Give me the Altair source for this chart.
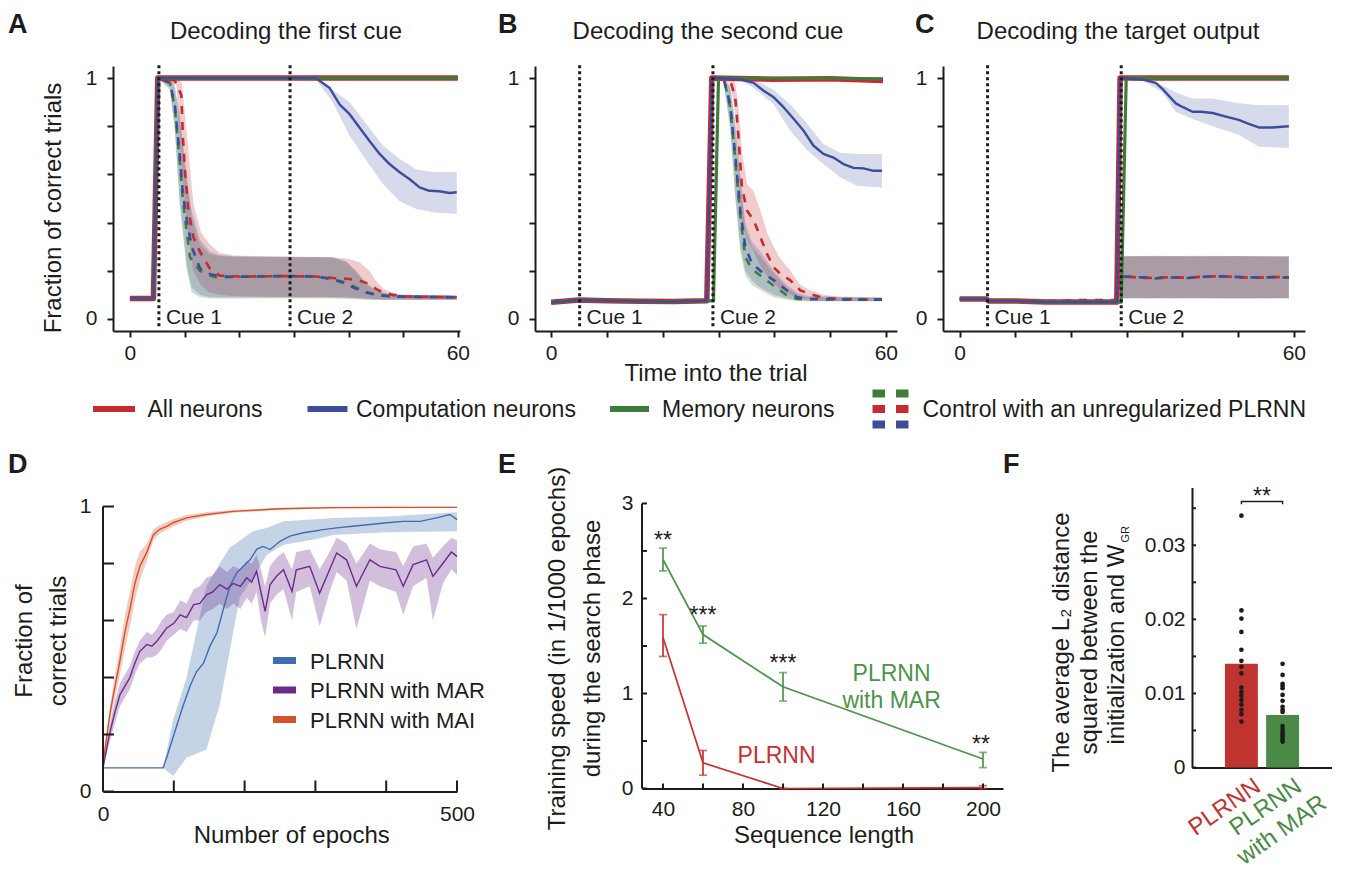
import altair as alt
import pandas as pd

FONT = "Liberation Sans, Arial, Helvetica, sans-serif"
INK = "#1c1c1c"
RED = "#c62b2f"
BLUE = "#3c4e9b"
GREEN = "#3e7c3b"
D_BLUE = "#3f6db0"
D_PURPLE = "#6a2b8c"
D_ORANGE = "#d4532b"
E_GREEN = "#4a954a"
E_RED = "#c9302f"
F_RED = "#c0342f"
F_GREEN = "#4a8a46"

# ---------------- texts ----------------
LETTERS = ["A", "B", "C", "D", "E", "F"]
TITLES = ["Decoding the first cue", "Decoding the second cue", "Decoding the target output"]
CUE_LABELS = ["Cue 1", "Cue 2"]
ROW1_YTITLE = "Fraction of correct trials"
ROW1_XTITLE = "Time into the trial"
ROW1_LEGEND = ["All neurons", "Computation neurons", "Memory neurons",
               "Control with an unregularized PLRNN"]
D_YTITLE = ["Fraction of", "correct trials"]
D_XTITLE = "Number of epochs"
D_LEGEND = ["PLRNN", "PLRNN with MAR", "PLRNN with MAI"]
E_YTITLE = ["Training speed (in 1/1000 epochs)", "during the search phase"]
E_XTITLE = "Sequence length"
E_ANNOT = ["PLRNN\nwith MAR", "PLRNN"]
F_YTITLE = ["The average L\u2082 distance", "squared between the", "initialization and W"]
F_SUB = "GR"
F_GROUPS = ["PLRNN", "PLRNN with MAR"]
F_LABELS = ["PLRNN", "PLRNN\nwith MAR"]

# ---------------- ticks ----------------
TIME_TICKS = [0, 10, 20, 30, 40, 50, 60]
FRAC_TICKS = [0, 0.2, 0.4, 0.6, 0.8, 1]
D_XTICKS = [0, 100, 200, 300, 400, 500]
D_YTICKS = [0, 0.2, 0.4, 0.6, 0.8, 1]
E_XTICKS = [40, 60, 80, 100, 120, 140, 160, 180, 200]
E_XLABELS = [40, 80, 120, 160, 200]
E_YTICKS = [0, 0.5, 1, 1.5, 2, 2.5, 3]
F_YTICKS = [0, 0.005, 0.01, 0.015, 0.02, 0.025, 0.03, 0.035]

# ---------------- panel A: decoding the first cue ----------------
A_CUES = [5.3, 29.3]
A_RED_T = [0, 4.3, 5.1, 60]
A_RED_V = [0.085, 0.085, 1.0, 1.0]
A_GREEN_T = [0, 4.3, 5.1, 60]
A_GREEN_V = [0.085, 0.085, 1.0, 1.0]
A_BLUE_T = [0, 4.3, 5.1, 34.0, 36.5, 38.4, 40.2, 42.0, 43.8, 45.7, 47.5, 49.3, 51.2, 53.0, 54.8, 56.6, 58.5, 59.8]
A_BLUE_V = [0.085, 0.085, 1.0, 1.0, 0.96, 0.89, 0.85, 0.795, 0.74, 0.685, 0.643, 0.61, 0.58, 0.546, 0.532, 0.53, 0.523, 0.526]
A_BBAND_T = [34.0, 37.1, 40.2, 43.2, 46.3, 49.3, 52.4, 55.4, 59.8]
A_BBAND_LO = [0.995, 0.9, 0.76, 0.66, 0.56, 0.49, 0.456, 0.443, 0.436]
A_BBAND_HI = [1.0, 0.95, 0.9, 0.81, 0.72, 0.665, 0.62, 0.61, 0.61]
A_CRED_T = [0, 4.3, 5.1, 8.2, 9.4, 9.7, 10.05, 10.7, 11.6, 12.8, 14.6, 16.4, 20, 28, 34, 37.1, 40.2, 42.0, 43.8, 45.0, 46.3, 48.1, 50.5, 59.8]
A_CRED_V = [0.085, 0.085, 1.0, 0.99, 0.93, 0.75, 0.62, 0.45, 0.34, 0.28, 0.21, 0.18, 0.176, 0.178, 0.176, 0.17, 0.166, 0.159, 0.145, 0.125, 0.11, 0.10, 0.093, 0.09]
A_CBLUE_T = [0, 4.3, 5.1, 7.3, 8.2, 9.1, 9.7, 10.4, 11.3, 12.8, 14.6, 16.4, 20, 28, 34, 37.1, 39.6, 41.4, 43.2, 45.0, 48.1, 59.8]
A_CBLUE_V = [0.085, 0.085, 1.0, 0.98, 0.89, 0.68, 0.52, 0.41, 0.30, 0.21, 0.187, 0.176, 0.175, 0.178, 0.176, 0.166, 0.145, 0.125, 0.11, 0.10, 0.093, 0.09]
A_CGREEN_T = [0, 4.3, 5.1, 7.3, 8.2, 9.1, 9.7, 10.4, 11.0, 12.8, 14.6, 15.8, 20, 28, 34, 37.1, 39.6, 41.4, 43.2, 45.0, 48.1, 59.8]
A_CGREEN_V = [0.085, 0.085, 1.0, 0.98, 0.88, 0.66, 0.49, 0.36, 0.255, 0.2, 0.18, 0.173, 0.175, 0.178, 0.176, 0.166, 0.15, 0.13, 0.112, 0.10, 0.093, 0.09]
A_BRED_T = [5.1, 8.5, 9.5, 10.5, 11.6, 13.0, 14.6, 16.4, 19.0, 30.0, 37.0, 40.0, 42.0, 43.8, 45.0, 46.3, 48.0, 50.0, 59.8]
A_BRED_LO = [1.0, 0.97, 0.62, 0.38, 0.2, 0.14, 0.11, 0.1, 0.095, 0.09, 0.09, 0.09, 0.088, 0.085, 0.082, 0.08, 0.08, 0.08, 0.08]
A_BRED_HI = [1.0, 1.0, 0.98, 0.75, 0.48, 0.36, 0.31, 0.275, 0.263, 0.258, 0.256, 0.25, 0.235, 0.2, 0.16, 0.125, 0.11, 0.1, 0.097]
A_BCTRL_T = [5.1, 7.3, 8.2, 9.1, 10.4, 11.3, 12.8, 14.6, 16.4, 19.0, 30.0, 37.0, 39.6, 41.4, 43.2, 45.0, 48.0, 59.8]
A_BBLUE_LO = [1.0, 0.96, 0.8, 0.5, 0.22, 0.13, 0.1, 0.09, 0.09, 0.09, 0.09, 0.09, 0.088, 0.085, 0.082, 0.08, 0.08, 0.08]
A_BBLUE_HI = [1.0, 1.0, 0.97, 0.85, 0.6, 0.45, 0.33, 0.28, 0.265, 0.26, 0.258, 0.256, 0.24, 0.2, 0.15, 0.12, 0.1, 0.097]
A_BGREEN_LO = [1.0, 0.95, 0.78, 0.47, 0.2, 0.11, 0.09, 0.085, 0.085, 0.085, 0.085, 0.085, 0.083, 0.082, 0.08, 0.08, 0.08, 0.08]
A_BGREEN_HI = [1.0, 1.0, 0.96, 0.83, 0.57, 0.42, 0.31, 0.27, 0.26, 0.258, 0.256, 0.255, 0.235, 0.195, 0.145, 0.115, 0.1, 0.096]

# ---------------- panel B: decoding the second cue ----------------
B_CUES = [5.1, 29.0]
B_RED_T = [0, 5, 10, 16, 22, 27.9, 28.8, 40, 50, 59.5]
B_RED_V = [0.069, 0.079, 0.076, 0.073, 0.072, 0.076, 1.0, 0.995, 0.997, 0.99]
B_GREEN_T = [0, 5, 10, 16, 22, 29.1, 30.0, 59.5]
B_GREEN_V = [0.069, 0.079, 0.076, 0.073, 0.072, 0.076, 1.0, 0.997]
B_BLUE_T = [0, 5, 10, 16, 22, 27.9, 28.8, 33.9, 36.3, 38.1, 39.9, 41.7, 43.5, 45.3, 47.0, 48.8, 50.6, 52.4, 54.2, 56.0, 57.8, 59.3]
B_BLUE_V = [0.069, 0.079, 0.076, 0.073, 0.072, 0.076, 1.0, 0.995, 0.98, 0.947, 0.92, 0.878, 0.83, 0.78, 0.72, 0.685, 0.67, 0.643, 0.627, 0.625, 0.615, 0.615]
B_BBAND_T = [33.9, 36.3, 39.9, 42.9, 45.9, 48.8, 51.8, 54.8, 59.3]
B_BBAND_LO = [0.99, 0.96, 0.89, 0.78, 0.70, 0.643, 0.588, 0.553, 0.546]
B_BBAND_HI = [1.0, 0.995, 0.95, 0.89, 0.81, 0.726, 0.69, 0.685, 0.685]
B_CRED_T = [0, 5, 10, 16, 22, 27.9, 28.8, 32.1, 33.0, 33.6, 34.2, 35.1, 36.3, 37.5, 38.7, 39.9, 41.1, 42.9, 44.7, 46.4, 48.8, 51.8, 59.3]
B_CRED_V = [0.069, 0.079, 0.076, 0.073, 0.072, 0.076, 1.0, 0.99, 0.92, 0.75, 0.546, 0.45, 0.41, 0.34, 0.27, 0.214, 0.187, 0.16, 0.118, 0.104, 0.087, 0.083, 0.08]
B_CBLUE_T = [0, 5, 10, 16, 22, 27.9, 28.8, 30.9, 32.1, 33.0, 33.9, 34.8, 36.0, 37.5, 39.9, 42.3, 44.1, 45.9, 59.3]
B_CBLUE_V = [0.069, 0.079, 0.076, 0.073, 0.072, 0.076, 1.0, 1.0, 0.89, 0.68, 0.45, 0.30, 0.23, 0.2, 0.16, 0.118, 0.09, 0.083, 0.08]
B_CGREEN_T = [0, 5, 10, 16, 22, 27.9, 28.8, 30.9, 32.1, 33.0, 33.9, 34.8, 36.0, 37.5, 39.9, 42.3, 44.1, 59.3]
B_CGREEN_V = [0.069, 0.079, 0.076, 0.073, 0.072, 0.076, 1.0, 1.0, 0.88, 0.66, 0.43, 0.256, 0.207, 0.18, 0.138, 0.097, 0.083, 0.08]
B_BRED_T = [28.8, 32.1, 33.0, 33.6, 34.2, 35.1, 36.3, 37.5, 38.7, 39.9, 41.1, 42.9, 44.7, 46.4, 48.8, 52.0, 59.3]
B_BRED_LO = [1.0, 0.98, 0.85, 0.6, 0.4, 0.33, 0.28, 0.22, 0.18, 0.15, 0.12, 0.1, 0.085, 0.08, 0.075, 0.075, 0.075]
B_BRED_HI = [1.0, 1.0, 0.98, 0.88, 0.7, 0.56, 0.53, 0.45, 0.36, 0.30, 0.25, 0.2, 0.14, 0.12, 0.1, 0.09, 0.088]
B_BCTRL_T = [28.8, 30.9, 32.1, 33.0, 33.9, 34.8, 36.0, 37.5, 39.9, 42.3, 44.1, 46.0, 59.3]
B_BBLUE_LO = [1.0, 0.99, 0.8, 0.52, 0.3, 0.2, 0.16, 0.13, 0.1, 0.085, 0.078, 0.075, 0.075]
B_BBLUE_HI = [1.0, 1.0, 0.97, 0.82, 0.6, 0.4, 0.32, 0.28, 0.2, 0.14, 0.11, 0.095, 0.09]
B_BGREEN_LO = [1.0, 0.99, 0.78, 0.5, 0.28, 0.18, 0.14, 0.12, 0.09, 0.08, 0.075, 0.072, 0.072]
B_BGREEN_HI = [1.0, 1.0, 0.96, 0.8, 0.57, 0.37, 0.3, 0.26, 0.19, 0.13, 0.1, 0.09, 0.088]

# ---------------- panel C: decoding the target output ----------------
C_CUES = [5.0, 29.0]
C_RED_T = [0, 4.8, 5.2, 10, 15.5, 21.5, 28.2, 28.8, 59.1]
C_RED_V = [0.083, 0.083, 0.075, 0.075, 0.07, 0.07, 0.07, 1.0, 1.0]
C_GREEN_T = [0, 4.8, 5.2, 10, 15.5, 21.5, 29.0, 29.9, 59.1]
C_GREEN_V = [0.083, 0.083, 0.075, 0.075, 0.07, 0.07, 0.07, 1.0, 1.0]
C_BLUE_T = [0, 4.8, 5.2, 10, 15.5, 21.5, 28.2, 28.8, 33.0, 35.2, 36.4, 37.6, 38.8, 40.0, 41.8, 43.3, 45.4, 47.8, 50.1, 51.9, 53.7, 56.1, 59.1]
C_BLUE_V = [0.083, 0.083, 0.075, 0.075, 0.07, 0.07, 0.07, 1.0, 0.993, 0.98, 0.955, 0.925, 0.895, 0.88, 0.86, 0.86, 0.855, 0.84, 0.826, 0.81, 0.795, 0.795, 0.80]
C_BBAND_T = [33.0, 36.4, 38.8, 41.8, 45.4, 50.1, 53.7, 59.1]
C_BBAND_LO = [0.99, 0.94, 0.86, 0.83, 0.80, 0.765, 0.715, 0.71]
C_BBAND_HI = [1.0, 0.97, 0.94, 0.915, 0.915, 0.895, 0.887, 0.887]
C_CTRL_T = [0, 4.8, 5.2, 10, 15.5, 21.5, 28.2, 28.8, 32, 35, 38, 41, 44, 47, 50, 53, 56, 59.1]
C_CRED_V = [0.083, 0.083, 0.075, 0.075, 0.07, 0.07, 0.07, 0.178, 0.172, 0.170, 0.174, 0.171, 0.176, 0.178, 0.173, 0.171, 0.174, 0.173]
C_CBLUE_V = [0.086, 0.086, 0.079, 0.078, 0.075, 0.078, 0.078, 0.176, 0.173, 0.168, 0.172, 0.170, 0.175, 0.177, 0.174, 0.172, 0.173, 0.172]
C_CGREEN_V = [0.083, 0.083, 0.076, 0.076, 0.072, 0.073, 0.073, 0.177, 0.174, 0.171, 0.173, 0.172, 0.175, 0.176, 0.174, 0.172, 0.174, 0.173]
C_BCTRL_T = [28.8, 35, 42, 50, 59.1]
C_BRED_LO = [0.088, 0.087, 0.088, 0.086, 0.087]
C_BRED_HI = [0.262, 0.26, 0.262, 0.261, 0.26]
C_BBLUE_LO = [0.085, 0.086, 0.085, 0.086, 0.085]
C_BBLUE_HI = [0.26, 0.262, 0.26, 0.261, 0.26]
C_BGREEN_LO = [0.086, 0.085, 0.086, 0.085, 0.086]
C_BGREEN_HI = [0.258, 0.26, 0.259, 0.26, 0.258]

# ---------------- panel D: learning curves ----------------
D_MAI_E = [0, 5, 10, 17, 24, 31, 38, 45, 52, 62, 71, 80, 90, 99, 118, 146, 184, 250, 325, 400, 500]
D_MAI_V = [0.095, 0.19, 0.276, 0.37, 0.46, 0.56, 0.64, 0.73, 0.79, 0.84, 0.90, 0.92, 0.93, 0.943, 0.96, 0.972, 0.983, 0.992, 0.996, 0.997, 0.997]
D_MAI_BE = [0, 10, 17, 24, 31, 38, 45, 52, 62, 71, 80, 99, 118, 146, 184, 250, 325, 500]
D_MAI_LO = [0.09, 0.25, 0.33, 0.41, 0.50, 0.58, 0.67, 0.74, 0.81, 0.88, 0.905, 0.93, 0.95, 0.965, 0.978, 0.988, 0.993, 0.995]
D_MAI_HI = [0.10, 0.30, 0.41, 0.51, 0.62, 0.70, 0.79, 0.84, 0.87, 0.92, 0.935, 0.955, 0.97, 0.98, 0.988, 0.996, 0.999, 0.999]
D_PL_E = [0, 85, 90, 95, 104, 113, 123, 132, 142, 151, 161, 170, 179, 189, 198, 208, 217, 226, 236, 250,
          264, 283, 297, 311, 330, 349, 377, 401, 424, 448, 471, 490, 500]
D_PL_V = [0.083, 0.083, 0.12, 0.159, 0.23, 0.30, 0.37, 0.42, 0.45, 0.51, 0.557, 0.64, 0.72, 0.767, 0.79, 0.814, 0.85, 0.86, 0.849, 0.878,
          0.896, 0.908, 0.913, 0.919, 0.925, 0.93, 0.937, 0.943, 0.948, 0.948, 0.96, 0.972, 0.954]
D_PL_BE = [85, 99, 118, 146, 165, 179, 193, 212, 231, 255, 300, 325, 400, 500]
D_PL_LO = [0.083, 0.054, 0.118, 0.147, 0.305, 0.493, 0.68, 0.75, 0.83, 0.866, 0.885, 0.9, 0.91, 0.913]
D_PL_HI = [0.083, 0.25, 0.40, 0.72, 0.80, 0.855, 0.88, 0.913, 0.925, 0.948, 0.955, 0.96, 0.965, 0.98]
D_MAR_E = [0, 9, 17, 24, 31, 38, 45, 52, 62, 69, 76, 83, 90, 100, 109, 118, 128, 137, 146, 155,
           165, 175, 184, 194, 203, 210, 217, 223, 229, 236, 245, 255, 267, 273, 292, 306, 320, 330, 344, 358,
           377, 391, 414, 424, 438, 457, 466, 480, 492, 500]
D_MAR_V = [0.083, 0.2, 0.28, 0.34, 0.37, 0.40, 0.45, 0.492, 0.516, 0.51, 0.527, 0.55, 0.574, 0.59, 0.62, 0.61, 0.656, 0.66, 0.69, 0.70,
           0.726, 0.71, 0.73, 0.72, 0.75, 0.735, 0.773, 0.70, 0.632, 0.726, 0.755, 0.778, 0.702, 0.778, 0.79, 0.696, 0.778, 0.837, 0.813, 0.72,
           0.813, 0.79, 0.778, 0.72, 0.796, 0.813, 0.755, 0.80, 0.84, 0.825]
D_MAR_LO = [0.08, 0.17, 0.24, 0.30, 0.33, 0.36, 0.41, 0.45, 0.47, 0.47, 0.48, 0.50, 0.53, 0.55, 0.57, 0.56, 0.60, 0.60, 0.63, 0.64,
            0.66, 0.64, 0.66, 0.64, 0.68, 0.66, 0.70, 0.60, 0.54, 0.66, 0.69, 0.71, 0.60, 0.70, 0.72, 0.58, 0.70, 0.77, 0.74, 0.57,
            0.74, 0.72, 0.70, 0.62, 0.72, 0.75, 0.60, 0.73, 0.78, 0.76]
D_MAR_HI = [0.09, 0.23, 0.32, 0.38, 0.41, 0.44, 0.49, 0.53, 0.56, 0.55, 0.57, 0.60, 0.62, 0.63, 0.67, 0.66, 0.71, 0.72, 0.75, 0.76,
            0.79, 0.77, 0.79, 0.78, 0.81, 0.80, 0.83, 0.78, 0.72, 0.79, 0.82, 0.84, 0.78, 0.84, 0.85, 0.78, 0.84, 0.89, 0.87, 0.80,
            0.87, 0.85, 0.84, 0.79, 0.86, 0.87, 0.82, 0.86, 0.89, 0.88]

# ---------------- panel E: training speed ----------------
E_SEQ = [40, 60, 100, 200]
E_MAR_MEAN = [2.41, 1.62, 1.07, 0.31]
E_MAR_LO = [2.29, 1.53, 0.92, 0.22]
E_MAR_HI = [2.53, 1.71, 1.22, 0.38]
E_PL_MEAN = [1.59, 0.27, 0.0, 0.01]
E_PL_LO = [1.39, 0.14, 0.0, 0.0]
E_PL_HI = [1.83, 0.40, 0.0, 0.03]
E_STARS = ["**", "***", "***", "**"]
E_STAR_X = [40, 60, 100, 199]
E_STAR_Y = [2.67, 1.88, 1.37, 0.52]
E_ANNOT_X = [154.3, 96.8]
E_ANNOT_Y = [1.13, 0.27]

# ---------------- panel F: L2 distance ----------------
F_MEANS = [0.0140, 0.0071]
F_RED_PTS = [0.0340, 0.0212, 0.0201, 0.0183, 0.0159, 0.0144, 0.0136, 0.0127, 0.0108, 0.0102, 0.0097, 0.0091, 0.0085, 0.0078, 0.0072, 0.0062]
F_GREEN_PTS = [0.0140, 0.0125, 0.0113, 0.0110, 0.0107, 0.0098, 0.0090, 0.0082, 0.0078, 0.0075, 0.0056, 0.0052, 0.0048, 0.0045, 0.0042, 0.0038, 0.0035]
F_BRACKET_Y = [0.03555, 0.0359, 0.0359, 0.03555]
F_SIG = "**"
F_SIG_Y = 0.0356

AXB = dict(title=None, grid=False, labelFont=FONT, labelFontSize=21, labelColor=INK,
           labelFlush=False, labelOverlap=False)
DOM = dict(domainColor=INK, domainWidth=2)
LETTER_KW = dict(size=27, weight="bold", align="left")


def txt(s, x, y, size=24, color=INK, align="center", baseline="alphabetic", angle=None,
        weight="normal", lh=None):
    kw = dict(font=FONT, fontSize=size, color=color, align=align, baseline=baseline, fontWeight=weight)
    if angle is not None:
        kw["angle"] = angle
    if lh is not None:
        kw["lineBreak"] = "\n"
        kw["lineHeight"] = lh
    return alt.Chart(pd.DataFrame({"label": [s]})).mark_text(**kw).encode(
        x=alt.value(x), y=alt.value(y), text="label:N")


def rect(x0, x1, y0, y1, color):
    return alt.Chart(pd.DataFrame({"k": [0]})).mark_rect(color=color).encode(
        x=alt.value(x0), x2=alt.value(x1), y=alt.value(y0), y2=alt.value(y1))


def spacer(w, h=1):
    return alt.Chart(pd.DataFrame({"s": [0]})).mark_point(opacity=0).properties(width=w, height=h)


def cue_panel(width, xdom, solid, dashed, bands, comp_band, cues, extras):
    H = 265
    xs = alt.Scale(domain=xdom, nice=False, zero=False)
    ys = alt.Scale(domain=[-0.05, 1.05], nice=False, zero=False)
    xax = alt.Axis(values=TIME_TICKS, labelExpr="datum.value == 0 || datum.value == 60 ? datum.label : ''",
                   tickColor=INK, tickWidth=2, tickSize=6, labelPadding=5, **AXB, **DOM)
    yax = alt.Axis(values=FRAC_TICKS, labelExpr="datum.value == 0 ? '0' : (datum.value == 1 ? '1' : '')",
                   tickColor=INK, tickWidth=2, tickSize=6, labelPadding=10, **AXB, **DOM)

    def X(f):
        return alt.X(f"{f}:Q", scale=xs, axis=xax)

    def Y(f):
        return alt.Y(f"{f}:Q", scale=ys, axis=yax)

    def band(tlh, color, op=0.24):
        df = pd.DataFrame({"t": tlh[0], "lo": tlh[1], "hi": tlh[2]})
        return alt.Chart(df).mark_area(color=color, opacity=op).encode(x=X("t"), y=Y("lo"), y2="hi:Q")

    layers = [band(bands["green"], GREEN), band(bands["red"], RED), band(bands["blue"], BLUE),
              band(comp_band, BLUE, 0.21)]

    def line(tv, color, width, dash=None, offset=0):
        kw = dict(color=color, strokeWidth=width, strokeCap="butt", strokeJoin="round")
        if dash:
            kw.update(strokeDash=dash, strokeDashOffset=offset)
        return alt.Chart(pd.DataFrame({"t": tv[0], "v": tv[1]})).mark_line(**kw).encode(x=X("t"), y=Y("v"))

    layers.append(line(dashed["green"], GREEN, 2.6, [8, 8], 4))
    layers.append(line(dashed["red"], RED, 2.6, [8, 8], 0))
    layers.append(line(dashed["blue"], BLUE, 2.6, [8, 8], 8))
    layers.append(line(solid["red"], RED, 5.5))
    layers.append(line(solid["green"], GREEN, 3.2))
    layers.append(line(solid["blue"], BLUE, 2.4))

    cdf = pd.DataFrame({"cue": cues, "label": CUE_LABELS})
    layers.append(alt.Chart(cdf).mark_rule(color=INK, strokeWidth=3, strokeDash=[3, 3]).encode(
        x=X("cue"), y=alt.datum(-0.03), y2=alt.datum(1.06)))
    layers.append(alt.Chart(cdf).mark_text(align="left", dx=7, baseline="alphabetic", font=FONT,
                                           fontSize=21, color=INK).encode(
        x=X("cue"), y=alt.datum(-0.02), text="label:N"))
    layers += extras
    return alt.layer(*layers).properties(width=width, height=H)


# ---------------- row 1 ----------------
legend_A = [
    rect(-20, 22, 340, 346, RED), txt(ROW1_LEGEND[0], 34.5, 344, size=23, align="left", baseline="middle"),
    rect(194.5, 234.5, 340, 346, BLUE), txt(ROW1_LEGEND[1], 243, 344, size=23, align="left", baseline="middle"),
    rect(497, 536, 340, 346, GREEN), txt(ROW1_LEGEND[2], 549, 344, size=23, align="left", baseline="middle"),
    txt(ROW1_LEGEND[3], 809.5, 344, size=23, align="left", baseline="middle"),
]
for (y0, y1, col) in [(323.5, 331.5, GREEN), (339, 347, RED), (354.5, 362.5, BLUE)]:
    for (x0, x1) in [(759.5, 772), (783, 795.5)]:
        legend_A.append(rect(x0, x1, y0, y1, col))

panel_A = cue_panel(
    347, [-3.1, 60.4],
    {"red": (A_RED_T, A_RED_V), "green": (A_GREEN_T, A_GREEN_V), "blue": (A_BLUE_T, A_BLUE_V)},
    {"red": (A_CRED_T, A_CRED_V), "green": (A_CGREEN_T, A_CGREEN_V), "blue": (A_CBLUE_T, A_CBLUE_V)},
    {"red": (A_BRED_T, A_BRED_LO, A_BRED_HI), "green": (A_BCTRL_T, A_BGREEN_LO, A_BGREEN_HI),
     "blue": (A_BCTRL_T, A_BBLUE_LO, A_BBLUE_HI)},
    (A_BBAND_T, A_BBAND_LO, A_BBAND_HI), A_CUES,
    [txt(LETTERS[0], -105, -33, **LETTER_KW),
     txt(TITLES[0], 173, -27),
     txt(ROW1_YTITLE, -52.5, 142, angle=270)] + legend_A)

panel_B = cue_panel(
    362, [-2.9, 62.0],
    {"red": (B_RED_T, B_RED_V), "green": (B_GREEN_T, B_GREEN_V), "blue": (B_BLUE_T, B_BLUE_V)},
    {"red": (B_CRED_T, B_CRED_V), "green": (B_CGREEN_T, B_CGREEN_V), "blue": (B_CBLUE_T, B_CBLUE_V)},
    {"red": (B_BRED_T, B_BRED_LO, B_BRED_HI), "green": (B_BCTRL_T, B_BGREEN_LO, B_BGREEN_HI),
     "blue": (B_BCTRL_T, B_BBLUE_LO, B_BBLUE_HI)},
    (B_BBAND_T, B_BBAND_LO, B_BBAND_HI), B_CUES,
    [txt(LETTERS[1], -37, -33, **LETTER_KW),
     txt(TITLES[1], 173, -27),
     txt(ROW1_XTITLE, 181, 314.7)])

panel_C = cue_panel(
    362, [-3.0, 62.0],
    {"red": (C_RED_T, C_RED_V), "green": (C_GREEN_T, C_GREEN_V), "blue": (C_BLUE_T, C_BLUE_V)},
    {"red": (C_CTRL_T, C_CRED_V), "green": (C_CTRL_T, C_CGREEN_V), "blue": (C_CTRL_T, C_CBLUE_V)},
    {"red": (C_BCTRL_T, C_BRED_LO, C_BRED_HI), "green": (C_BCTRL_T, C_BGREEN_LO, C_BGREEN_HI),
     "blue": (C_BCTRL_T, C_BBLUE_LO, C_BBLUE_HI)},
    (C_BBAND_T, C_BBAND_LO, C_BBAND_HI), C_CUES,
    [txt(LETTERS[2], -28, -33, **LETTER_KW),
     txt(TITLES[2], 175, -27)])


# ---------------- panel D ----------------
def panel_d():
    W, H = 354, 304
    xs = alt.Scale(domain=[0, 500], nice=False, zero=False)
    ys = alt.Scale(domain=[0, 1.0667], nice=False)
    xax = alt.Axis(values=[0, 500], format="d", ticks=False, tickSize=0, labelPadding=12, **AXB, **DOM)
    yax = alt.Axis(values=[0, 1], format="d", ticks=False, tickSize=0, labelPadding=12, domain=False, **AXB)
    X = lambda f: alt.X(f"{f}:Q", scale=xs, axis=xax)
    Y = lambda f: alt.Y(f"{f}:Q", scale=ys, axis=yax)
    layers = []
    for e, lo, hi, c in [(D_PL_BE, D_PL_LO, D_PL_HI, D_BLUE), (D_MAR_E, D_MAR_LO, D_MAR_HI, D_PURPLE),
                         (D_MAI_BE, D_MAI_LO, D_MAI_HI, D_ORANGE)]:
        layers.append(alt.Chart(pd.DataFrame({"t": e, "lo": lo, "hi": hi})).mark_area(color=c, opacity=0.3).encode(
            x=X("t"), y=Y("lo"), y2="hi:Q"))
    for e, v, c in [(D_PL_E, D_PL_V, D_BLUE), (D_MAR_E, D_MAR_V, D_PURPLE), (D_MAI_E, D_MAI_V, D_ORANGE)]:
        layers.append(alt.Chart(pd.DataFrame({"t": e, "v": v})).mark_line(color=c, strokeWidth=1.4).encode(
            x=X("t"), y=Y("v")))
    layers.append(alt.Chart(pd.DataFrame({"t": D_XTICKS})).mark_rule(color=INK, strokeWidth=2).encode(
        x=X("t"), y=alt.value(H), y2=alt.value(H - 11)))
    layers.append(alt.Chart(pd.DataFrame({"v": D_YTICKS})).mark_rule(color=INK, strokeWidth=2).encode(
        y=Y("v"), x=alt.value(0), x2=alt.value(11)))
    layers.append(alt.Chart(pd.DataFrame({"lo": [D_YTICKS[0]], "hi": [D_YTICKS[-1]]})).mark_rule(
        color=INK, strokeWidth=2).encode(y=Y("lo"), y2="hi:Q", x=alt.value(0)))
    for i, (lab, c) in enumerate(zip(D_LEGEND, [D_BLUE, D_PURPLE, D_ORANGE])):
        yc = 173 + 29.5 * i
        layers.append(rect(170, 193, yc - 3.5, yc + 3.5, c))
        layers.append(txt(lab, 207, yc + 1, size=22, align="left", baseline="middle"))
    layers += [txt(LETTERS[3], -95, -15, **LETTER_KW),
               txt(D_YTITLE[0], -70.8, 153.5, angle=270),
               txt(D_YTITLE[1], -37.5, 153.5, angle=270),
               txt(D_XTITLE, 188.7, 355.3)]
    return alt.layer(*layers).properties(width=W, height=H)


# ---------------- panel E ----------------
def panel_e():
    W, H = 361, 301
    xs = alt.Scale(domain=[29.5, 210], nice=False, zero=False)
    ys = alt.Scale(domain=[0, 3.168], nice=False)
    xax = alt.Axis(values=E_XLABELS, format="d", ticks=False, tickSize=0, labelPadding=10, **AXB, **DOM)
    yax = alt.Axis(values=[0, 1, 2, 3], format="d", ticks=False, tickSize=0, labelPadding=9, domain=False, **AXB)
    X = lambda f: alt.X(f"{f}:Q", scale=xs, axis=xax)
    Y = lambda f: alt.Y(f"{f}:Q", scale=ys, axis=yax)
    layers = []
    for mean, lo, hi, c in [(E_PL_MEAN, E_PL_LO, E_PL_HI, E_RED), (E_MAR_MEAN, E_MAR_LO, E_MAR_HI, E_GREEN)]:
        df = pd.DataFrame({"s": E_SEQ, "m": mean, "lo": lo, "hi": hi})
        base = alt.Chart(df)
        layers.append(base.mark_line(color=c, strokeWidth=1.7).encode(x=X("s"), y=Y("m")))
        layers.append(base.mark_rule(color=c, strokeWidth=1.7).encode(x=X("s"), y=Y("lo"), y2="hi:Q"))
        layers.append(base.mark_tick(color=c, orient="horizontal", size=8, thickness=1.7).encode(x=X("s"), y=Y("lo")))
        layers.append(base.mark_tick(color=c, orient="horizontal", size=8, thickness=1.7).encode(x=X("s"), y=Y("hi")))
    layers.append(alt.Chart(pd.DataFrame({"t": E_XTICKS})).mark_rule(color=INK, strokeWidth=2).encode(
        x=X("t"), y=alt.value(H), y2=alt.value(H - 5)))
    layers.append(alt.Chart(pd.DataFrame({"v": E_YTICKS})).mark_rule(color=INK, strokeWidth=2).encode(
        y=Y("v"), x=alt.value(0), x2=alt.value(5)))
    layers.append(alt.Chart(pd.DataFrame({"lo": [E_YTICKS[0]], "hi": [E_YTICKS[-1]]})).mark_rule(
        color=INK, strokeWidth=2).encode(y=Y("lo"), y2="hi:Q", x=alt.value(0)))
    layers.append(alt.Chart(pd.DataFrame({"s": E_STAR_X, "v": E_STAR_Y, "label": E_STARS})).mark_text(
        font=FONT, fontSize=23, color=INK, baseline="alphabetic", dy=13).encode(x=X("s"), y=Y("v"), text="label:N"))
    for lab, ax, ay, c in zip(E_ANNOT, E_ANNOT_X, E_ANNOT_Y, [E_GREEN, E_RED]):
        layers.append(alt.Chart(pd.DataFrame({"s": [ax], "v": [ay], "label": [lab]})).mark_text(
            font=FONT, fontSize=23, color=c, baseline="alphabetic", lineBreak="\n", lineHeight=27).encode(
            x=X("s"), y=Y("v"), text="label:N"))
    layers += [txt(LETTERS[4], -144, -15, **LETTER_KW),
               txt(E_YTITLE[0], -77, 161, angle=270),
               txt(E_YTITLE[1], -42.5, 161, angle=270),
               txt(E_XTITLE, 182, 355.3)]
    return alt.layer(*layers).properties(width=W, height=H)


# ---------------- panel F ----------------
def panel_f():
    W, H = 140, 280
    xs = alt.Scale(domain=F_GROUPS, paddingInner=0.2, paddingOuter=0.8)
    ys = alt.Scale(domain=[0, 0.0378], nice=False)
    xax = alt.Axis(labels=False, ticks=False, title=None, grid=False, **DOM)
    yax = alt.Axis(values=[0, 0.01, 0.02, 0.03], format=".2~f", ticks=False, tickSize=0, labelPadding=7, **AXB, **DOM)
    X = lambda f: alt.X(f"{f}:N", scale=xs, axis=xax)
    Y = lambda f: alt.Y(f"{f}:Q", scale=ys, axis=yax)
    layers = []
    for g, m, c in zip(F_GROUPS, F_MEANS, [F_RED, F_GREEN]):
        layers.append(alt.Chart(pd.DataFrame({"g": [g], "m": [m]})).mark_bar(color=c).encode(x=X("g"), y=Y("m")))
    pts = pd.DataFrame({"g": [F_GROUPS[0]] * len(F_RED_PTS) + [F_GROUPS[1]] * len(F_GREEN_PTS),
                        "v": F_RED_PTS + F_GREEN_PTS})
    layers.append(alt.Chart(pts).mark_circle(size=22, color=INK, opacity=1).encode(x=X("g"), y=Y("v")))
    layers.append(alt.Chart(pd.DataFrame({"v": F_YTICKS})).mark_rule(color=INK, strokeWidth=2).encode(
        y=Y("v"), x=alt.value(0), x2=alt.value(4)))
    br = pd.DataFrame({"g": [F_GROUPS[0], F_GROUPS[0], F_GROUPS[1], F_GROUPS[1]],
                       "v": F_BRACKET_Y, "o": [0, 1, 2, 3]})
    layers.append(alt.Chart(br).mark_line(color=INK, strokeWidth=1.4).encode(
        x=X("g"), y=Y("v"), order="o:Q"))
    layers.append(alt.Chart(pd.DataFrame({"label": [F_SIG], "v": [F_SIG_Y]})).mark_text(
        font=FONT, fontSize=23, color=INK, baseline="alphabetic").encode(
        x=alt.value(70), y=Y("v"), text="label:N"))
    for g, lab, c in zip(F_GROUPS, F_LABELS, [F_RED, F_GREEN]):
        layers.append(alt.Chart(pd.DataFrame({"g": [g], "label": [lab]})).mark_text(
            font=FONT, fontSize=24, angle=325, align="center", baseline="top", lineBreak="\n", lineHeight=28,
            dx=-19.3, dy=-13.5, color=c).encode(x=X("g"), y=alt.value(310), text="label:N"))
    layers += [txt(LETTERS[5], -189, -15, **LETTER_KW),
               txt(F_YTITLE[0], -123, 155, angle=270),
               txt(F_YTITLE[1], -95.5, 155, angle=270),
               txt(F_YTITLE[2], -68, 57, angle=270, align="right"),
               txt(F_SUB, -63.5, 55, size=11, angle=270, align="left")]
    return alt.layer(*layers).properties(width=W, height=H)


row1 = alt.hconcat(spacer(10), panel_A, spacer(75), panel_B, spacer(46), panel_C,
                   spacing=0, bounds="flush")
row2 = alt.hconcat(panel_d(), spacer(185), panel_e(), spacer(189), panel_f(),
                   spacing=0, bounds="flush")

chart = alt.vconcat(row1, row2, spacing=21.5).properties(
    padding={"top": 3, "left": 0, "right": 0, "bottom": 0}, background="white"
).configure_view(stroke=None)

chart.save("out.html", embed_options={"renderer": "svg", "actions": False})
